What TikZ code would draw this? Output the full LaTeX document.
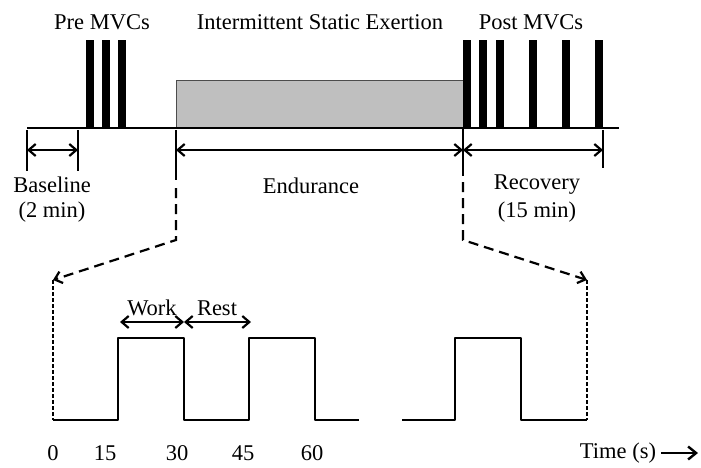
\documentclass[tikz,border=0pt]{standalone}
\usepackage{fontspec}
\setmainfont{Liberation Serif}
\usetikzlibrary{arrows.meta}
\tikzset{
  lbl/.style={font=\fontsize{22.5}{26}\selectfont, inner sep=0pt},
  dimline/.style={line width=2.2pt, {Straight Barb[length=7pt,width=12pt]}-{Straight Barb[length=7pt,width=12pt]}},
  zoomline/.style={line width=2.2pt, dash pattern=on 10pt off 6pt, -{Straight Barb[length=7pt,width=12pt]}},
  dropline/.style={line width=1.8pt, dash pattern=on 4pt off 2pt},
  mvcbar/.style={fill=black},
  wave/.style={line width=2.4pt, line join=round}
}
\begin{document}
\begin{tikzpicture}[x=1pt,y=-1pt]
                          \useasboundingbox (0,0) rectangle (701,467);
                          % top time line
                          \node[lbl] (pre) at (102,22) {Pre MVCs};
                          \node[lbl] (ise) at (320,22) {Intermittent Static Exertion};
                          \node[lbl] (post) at (531,22) {Post MVCs};
                          \filldraw[fill=black!25, draw=black!70, line width=0.9pt] (176,80) rectangle (463,128);
                          \draw[line width=2pt] (27,128) -- (619,128);
                          \foreach \bx in {90,106,122,467,483,499.5,533,565.5,599}
                            \fill[mvcbar] (\bx-4,40) rectangle (\bx+4,128);
                          % ticks
                          \coordinate (b0) at (27,150);
                          \coordinate (b1) at (78,150);
                          \coordinate (e0) at (176,150);
                          \coordinate (e1) at (463,150);
                          \coordinate (r1) at (603,150);
                          \draw[line width=2.2pt] (27,130) -- (27,171);
                          \draw[line width=2.2pt] (78,130) -- (78,171);
                          \draw[line width=2.2pt] (176,130) -- (176,180);
                          \draw[line width=2.2pt] (463,128) -- (463,176);
                          \draw[line width=2.2pt] (603,130) -- (603,168);
                          \draw[dimline] (b0) -- (b1);
                          \draw[dimline] (e0) -- (e1);
                          \draw[dimline] (e1) -- (r1);
                          \node[lbl] (base) at (52,185) {Baseline};
                          \node[lbl] (basemin) at (52,212) {(2 min)};
                          \node[lbl] (endu) at (311,186) {Endurance};
                          \node[lbl] (reco) at (537,185) {Recovery};
                          \node[lbl] (recomin) at (537,212) {(15 min)};
                          % zoom into one bout
                          \coordinate (zl) at (176,240);
                          \coordinate (zr) at (463,240);
                          \coordinate (tl) at (53,280);
                          \coordinate (tr) at (587,280);
                          \draw[zoomline] (176,188) -- (zl) -- (tl);
                          \draw[zoomline] (463,182) -- (zr) -- (tr);
                          \draw[dropline] (tl) -- (53,420);
                          \draw[dropline] (tr) -- (587,420);
                          % work / rest cycles
                          \draw[wave] (53,420) -- (118,420) -- (118,338) -- (184,338) -- (184,420) -- (249,420) -- (249,338) -- (315,338) -- (315,420) -- (359,420);
                          \draw[wave] (402,420) -- (455,420) -- (455,338) -- (521,338) -- (521,420) -- (587,420);
                          \coordinate (w0) at (120,322);
                          \coordinate (w1) at (184,322);
                          \coordinate (w2) at (251,322);
                          \draw[dimline] (w0) -- (w1);
                          \draw[dimline] (w1) -- (w2);
                          \node[lbl] (work) at (152,308) {Work};
                          \node[lbl] (rest) at (217,308) {Rest};
                          % time axis
                          \node[lbl] (t0) at (53,453) {0};
                          \node[lbl] (t15) at (105,453) {15};
                          \node[lbl] (t30) at (177,453) {30};
                          \node[lbl] (t45) at (243,453) {45};
                          \node[lbl] (t60) at (312,453) {60};
                          \node[lbl] (time) at (618,453) {Time (s)};
                          \coordinate (tend) at (698,453);
                          \draw[line width=2.4pt, -{Straight Barb[length=8pt,width=13pt]}] (time.east) ++(5,0) -- (tend);
                      \end{tikzpicture}
\end{document}
